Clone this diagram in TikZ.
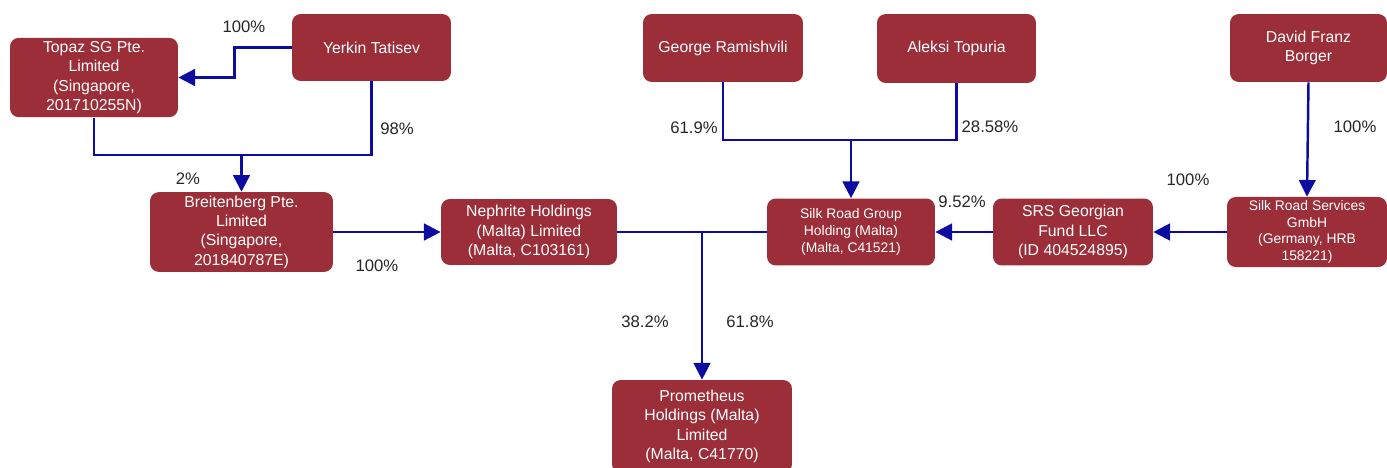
\documentclass[tikz,border=0pt]{standalone}
\usepackage{fontspec}
\setmainfont{Liberation Sans}
\usetikzlibrary{arrows.meta}
\definecolor{boxred}{RGB}{155,46,56}
\definecolor{linkblue}{RGB}{12,12,160}

\begin{document}
\begin{tikzpicture}[x=0.02cm,y=-0.02cm,
  box/.style={fill=boxred,rounded corners=5pt,text=white,align=center,
    inner sep=2pt,font=\fontsize{9}{11}\selectfont},
  smallbox/.style={box,font=\fontsize{7.9}{9.5}\selectfont},
  link/.style={draw=linkblue,line width=1.4pt},
  arr/.style={link,-{Triangle[length=9.5pt,width=9.5pt]}},
  pct/.style={font=\fontsize{9.5}{11}\selectfont,text=black!85,inner sep=1pt}]
\useasboundingbox (0,0) rectangle (1387,467);
\node[box,minimum width=3.36cm,minimum height=1.58cm] (topaz) at (94,77.5)
  {Topaz SG Pte.\\Limited\\(Singapore,\\201710255N)};
\node[box,minimum width=3.18cm,minimum height=1.34cm] (yerkin) at (371.5,47.5) {Yerkin Tatisev};
\node[box,minimum width=3.66cm,minimum height=1.54cm] (breit) at (241.5,232)
  {Breitenberg Pte.\\Limited\\(Singapore,\\201840787E)};
\node[box,minimum width=3.52cm,minimum height=1.32cm] (neph) at (529,232)
  {Nephrite Holdings\\(Malta) Limited\\(Malta, C103161)};
\node[box,minimum width=3.2cm,minimum height=1.36cm] (george) at (723,48) {George Ramishvili};
\node[box,minimum width=3.18cm,minimum height=1.38cm] (aleksi) at (956.5,48.5) {Aleksi Topuria};
\node[smallbox,minimum width=3.36cm,minimum height=1.34cm] (srg) at (851,232)
  {Silk Road Group\\Holding (Malta)\\(Malta, C41521)};
\node[box,minimum width=3.2cm,minimum height=1.34cm] (srs) at (1073,232)
  {SRS Georgian\\Fund LLC\\(ID 404524895)};
\node[box,minimum width=3.14cm,minimum height=1.36cm] (david) at (1308.5,48) {David Franz\\Borger};
\node[smallbox,minimum width=3.2cm,minimum height=1.38cm] (srserv) at (1307,232)
  {Silk Road Services\\GmbH\\(Germany, HRB\\158221)};
\node[box,minimum width=3.6cm,minimum height=1.86cm] (prom) at (702,426.5)
  {Prometheus\\Holdings (Malta)\\Limited\\(Malta, C41770)};

\coordinate (jb) at (241.5,155);
\coordinate (jg) at (851,140);

\draw[arr] (yerkin.west) -- ++(-57,0) |- (topaz.east);
\draw[link] (topaz.south) |- (jb) -| (yerkin.south);
\draw[arr] (jb) -- (breit.north);
\draw[arr] (breit.east) -- (neph.west);
\draw[link] (neph.east) -- (srg.west);
\draw[arr] (neph.east -| prom.north) -- (prom.north);
\draw[link] (george.south) |- (jg) -| (aleksi.south);
\draw[arr] (jg) -- (srg.north);
\draw[arr] (srs.west) -- (srg.east);
\draw[arr] (srserv.west) -- (srs.east);
\draw[arr] (david.south) -- (srserv.north);

\node[pct] (p1) at (244,27) {100\%};
\node[pct] (p2) at (397,129) {98\%};
\node[pct] (p3) at (188,179) {2\%};
\node[pct] (p4) at (377,266) {100\%};
\node[pct] (p5) at (694,128) {61.9\%};
\node[pct] (p6) at (990,127) {28.58\%};
\node[pct] (p7) at (962,202) {9.52\%};
\node[pct] (p8) at (1188,180) {100\%};
\node[pct] (p9) at (1355,127) {100\%};
\node[pct] (p10) at (645,322) {38.2\%};
\node[pct] (p11) at (750,322) {61.8\%};
\end{tikzpicture}
\end{document}
